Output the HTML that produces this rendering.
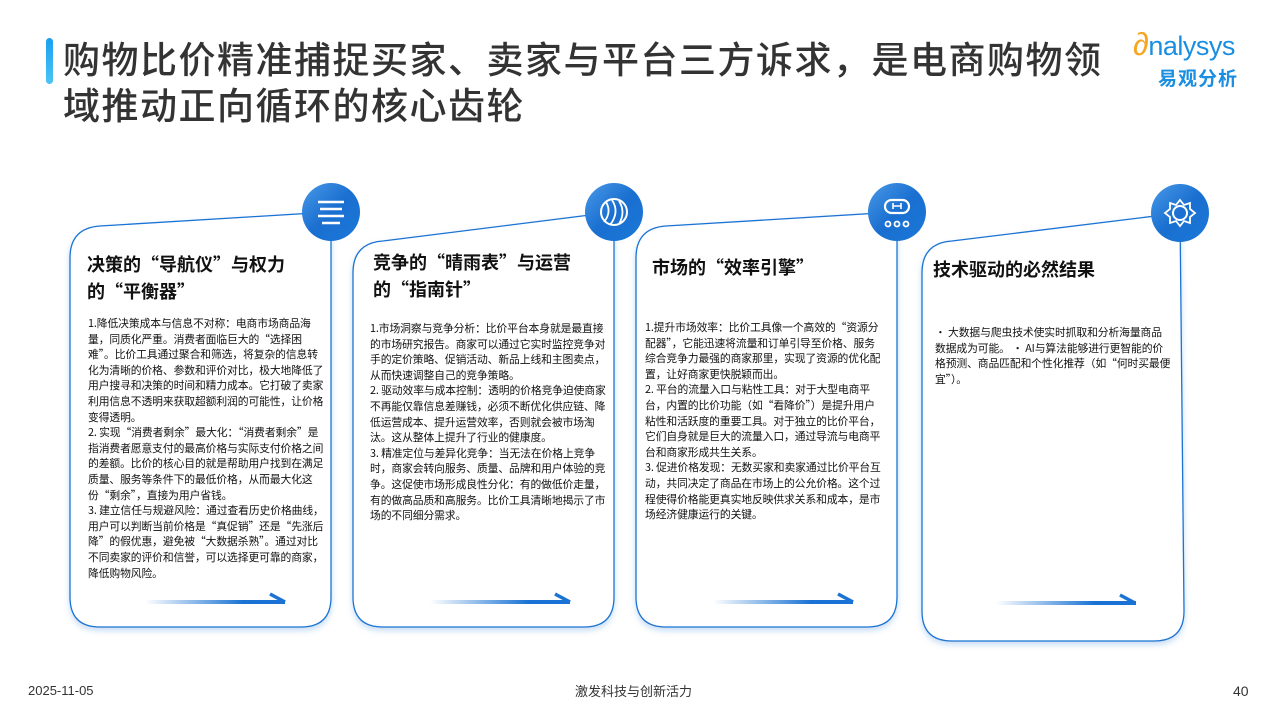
<!DOCTYPE html>
<html><head><meta charset="utf-8"><style>
body{margin:0;width:1280px;height:720px;overflow:hidden;background:#fff;font-family:"Noto Sans CJK SC","Liberation Sans",sans-serif;position:relative;color:#111}
.a{position:absolute}
.t{font-size:18px;font-weight:bold;line-height:27px;color:#111}
.b{font-size:10.8px;line-height:15.6px;color:#111;width:236px;letter-spacing:-0.1px}
</style></head><body>
<div class="a" style="left:46px;top:38px;width:7px;height:46px;border-radius:4px;background:linear-gradient(#1aa0f0,#4cc3f5)"></div>
<div class="a" style="left:63px;top:34px;font-size:37px;line-height:46px;color:#333;width:1080px;font-weight:500;letter-spacing:1.5px">购物比价精准捕捉买家、卖家与平台三方诉求，是电商购物领<br>域推动正向循环的核心齿轮</div>
<div class="a" style="left:1133px;top:26px;font-size:27px;color:#1a8ee0;font-family:'Liberation Sans',sans-serif;letter-spacing:-0.5px"><span style="color:#f5a623;font-size:32px">∂</span>nalysys</div>
<div class="a" style="left:1158px;top:64px;font-size:19px;color:#1a8ee0;font-weight:bold;letter-spacing:1px">易观分析</div>

<svg class="a" style="left:0;top:0" width="1280" height="720">
<defs>
<linearGradient id="ar" x1="0" x2="1"><stop offset="0" stop-color="#1a73d4" stop-opacity="0"/><stop offset="0.7" stop-color="#1a73d4"/></linearGradient>
<linearGradient id="cg" x1="0" y1="0" x2="1" y2="1"><stop offset="0" stop-color="#4a9ae8"/><stop offset="0.5" stop-color="#1a6fd0"/><stop offset="1" stop-color="#1a78d8"/></linearGradient>
<filter id="sh" x="-10%" y="-10%" width="120%" height="120%"><feDropShadow dx="0" dy="3" stdDeviation="3" flood-color="#1a73d4" flood-opacity="0.25"/></filter>
</defs>
<g fill="#fff" stroke="#1a73d4" stroke-width="1.3" filter="url(#sh)">
<path d="M70,258 Q70,228 100,226 L331,212 L331,597 Q331,627 301,627 L100,627 Q70,627 70,597 Z"/>
<path d="M353,273 Q353,243 383,241 L614,212 L614,597 Q614,627 584,627 L383,627 Q353,627 353,597 Z"/>
<path d="M636,258 Q636,228 666,226 L897,212 L897,597 Q897,627 867,627 L666,627 Q636,627 636,597 Z"/>
<path d="M922,273 Q922,243 952,241 L1180,213 L1184,611 Q1184,641 1154,641 L952,641 Q922,641 922,611 Z"/>
</g>
<g fill="url(#cg)">
<circle cx="331" cy="212" r="29"/><circle cx="614" cy="212" r="29"/><circle cx="897" cy="212" r="29"/><circle cx="1180" cy="213" r="29"/>
</g>
<g stroke="#fff" stroke-width="2.5" fill="none">
<path d="M318,202H344M320,209H342M318,216H344M322,223H340"/>
<circle cx="614" cy="212" r="13" stroke-width="2"/>
<path d="M606,202Q612,212 604,222M612,200Q620,212 610,225M619,201Q626,212 619,224" stroke-width="1.8"/>
<rect x="885" y="200" width="24" height="13" rx="6.5" stroke-width="2.2"/>
<path d="M893,203V209M901,203V209M893,206H901" stroke-width="1.6"/>
<circle cx="888" cy="224" r="2.5" stroke-width="1.8"/><circle cx="897" cy="224" r="2.5" stroke-width="1.8"/><circle cx="906" cy="224" r="2.5" stroke-width="1.8"/>
<circle cx="1180" cy="213" r="7" stroke-width="2"/>
<path d="M1180,200L1184,205L1190,203L1190,209L1195,213L1190,217L1190,223L1184,221L1180,226L1176,221L1170,223L1170,217L1165,213L1170,209L1170,203L1176,205Z" stroke-width="1.8"/>
</g>
<g fill="url(#ar)">
<rect x="145" y="600" width="140" height="4"/><rect x="430" y="600" width="140" height="4"/><rect x="713" y="600" width="140" height="4"/><rect x="996" y="601" width="140" height="4"/>
</g>
<g stroke="#1a73d4" stroke-width="3.5">
<path d="M270,594L285,602"/><path d="M555,594L570,602"/><path d="M838,594L853,602"/><path d="M1120,595L1135,603"/>
</g>
</svg>

<div class="a t" style="left:87px;top:251px">决策的“导航仪”与权力<br>的“平衡器”</div>
<div class="a b" style="left:88px;top:316px">1.降低决策成本与信息不对称：电商市场商品海量，同质化严重。消费者面临巨大的“选择困难”。比价工具通过聚合和筛选，将复杂的信息转化为清晰的价格、参数和评价对比，极大地降低了用户搜寻和决策的时间和精力成本。它打破了卖家利用信息不透明来获取超额利润的可能性，让价格变得透明。<br>2. 实现“消费者剩余”最大化：“消费者剩余”是指消费者愿意支付的最高价格与实际支付价格之间的差额。比价的核心目的就是帮助用户找到在满足质量、服务等条件下的最低价格，从而最大化这份“剩余”，直接为用户省钱。<br>3. 建立信任与规避风险：通过查看历史价格曲线，用户可以判断当前价格是“真促销”还是“先涨后降”的假优惠，避免被“大数据杀熟”。通过对比不同卖家的评价和信誉，可以选择更可靠的商家，降低购物风险。</div>

<div class="a t" style="left:373px;top:249px">竞争的“晴雨表”与运营<br>的“指南针”</div>
<div class="a b" style="left:370px;top:321px">1.市场洞察与竞争分析：比价平台本身就是最直接的市场研究报告。商家可以通过它实时监控竞争对手的定价策略、促销活动、新品上线和主图卖点，从而快速调整自己的竞争策略。<br>2. 驱动效率与成本控制：透明的价格竞争迫使商家不再能仅靠信息差赚钱，必须不断优化供应链、降低运营成本、提升运营效率，否则就会被市场淘汰。这从整体上提升了行业的健康度。<br>3. 精准定位与差异化竞争：当无法在价格上竞争时，商家会转向服务、质量、品牌和用户体验的竞争。这促使市场形成良性分化：有的做低价走量，有的做高品质和高服务。比价工具清晰地揭示了市场的不同细分需求。</div>

<div class="a t" style="left:652px;top:254px">市场的“效率引擎”</div>
<div class="a b" style="left:645px;top:320px">1.提升市场效率：比价工具像一个高效的“资源分配器”，它能迅速将流量和订单引导至价格、服务综合竞争力最强的商家那里，实现了资源的优化配置，让好商家更快脱颖而出。<br>2. 平台的流量入口与粘性工具：对于大型电商平台，内置的比价功能（如“看降价”）是提升用户粘性和活跃度的重要工具。对于独立的比价平台，它们自身就是巨大的流量入口，通过导流与电商平台和商家形成共生关系。<br>3. 促进价格发现：无数买家和卖家通过比价平台互动，共同决定了商品在市场上的公允价格。这个过程使得价格能更真实地反映供求关系和成本，是市场经济健康运行的关键。</div>

<div class="a t" style="left:933px;top:256px">技术驱动的必然结果</div>
<div class="a b" style="left:935px;top:325px">· 大数据与爬虫技术使实时抓取和分析海量商品数据成为可能。 · AI与算法能够进行更智能的价格预测、商品匹配和个性化推荐（如“何时买最便宜”）。</div>

<div class="a" style="left:28px;top:683px;font-size:13px;color:#333;font-family:'Liberation Sans',sans-serif">2025-11-05</div>
<div class="a" style="left:575px;top:681px;font-size:13px;color:#333">激发科技与创新活力</div>
<div class="a" style="left:1233px;top:683px;font-size:14px;color:#333;font-family:'Liberation Sans',sans-serif">40</div>
</body></html>
